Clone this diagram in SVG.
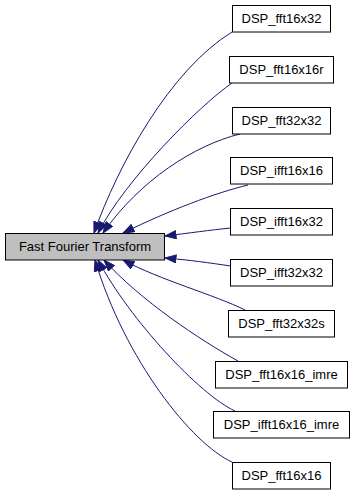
<svg xmlns="http://www.w3.org/2000/svg" width="360" height="493" viewBox="0 0 360 493">
  <style>
    .node rect { fill: #ffffff; stroke: #000000; stroke-width: 1; }
    .node.root rect { fill: #bfbfbf; }
    .node text { font-family: "Liberation Sans", Arial, sans-serif; font-size: 13px; fill: #000000; text-anchor: middle; }
    .edge { fill: none; stroke: #191970; stroke-width: 1; marker-end: url(#head); }
  </style>
  <defs>
    <marker id="head" viewBox="0 0 12 9" refX="11.5" refY="4.5" markerWidth="12" markerHeight="9" markerUnits="userSpaceOnUse" orient="auto">
      <path d="M0.5,0.5 L11.5,4.5 L0.5,8.5 Z" fill="#191970" stroke="#191970" stroke-width="1"/>
    </marker>
  </defs>

  <!-- connectors: each caller points at the group node -->
  <g id="edges">
    <path class="edge" d="M232,32 C170,70 118,165 94,233"/>
    <path class="edge" d="M232,83 C200,105 125,180 98,233"/>
    <path class="edge" d="M240,134 C195,145 140,180 103,233"/>
    <path class="edge" d="M248,185 C215,193 170,210 123,233"/>
    <path class="edge" d="M231,228 C210,230 190,233 165,236"/>
    <path class="edge" d="M231,266 C210,263 190,260 165,258"/>
    <path class="edge" d="M245,310 C215,295 160,280 123,260"/>
    <path class="edge" d="M238,361 C200,340 140,300 104,260"/>
    <path class="edge" d="M235,411 C200,395 130,320 98,260"/>
    <path class="edge" d="M232,462 C192,444 125,360 95,260"/>
  </g>

  <g id="node_fft" class="node root">
    <rect x="5.5" y="233.5" width="159" height="26.5"/>
    <text x="85" y="251">Fast Fourier Transform</text>
  </g>

  <g id="node_fft16x32" class="node">
    <rect x="232.5" y="5.5" width="98" height="26.5"/>
    <text x="281.5" y="23">DSP_fft16x32</text>
  </g>
  <g id="node_fft16x16r" class="node">
    <rect x="229.5" y="56.5" width="104" height="26.5"/>
    <text x="281.5" y="74">DSP_fft16x16r</text>
  </g>
  <g id="node_fft32x32" class="node">
    <rect x="232.5" y="107.5" width="98" height="26.5"/>
    <text x="281.5" y="125">DSP_fft32x32</text>
  </g>
  <g id="node_ifft16x16" class="node">
    <rect x="230.5" y="157.5" width="102" height="26.5"/>
    <text x="281.5" y="175">DSP_ifft16x16</text>
  </g>
  <g id="node_ifft16x32" class="node">
    <rect x="230.5" y="208.5" width="102" height="26.5"/>
    <text x="281.5" y="226">DSP_ifft16x32</text>
  </g>
  <g id="node_ifft32x32" class="node">
    <rect x="230.5" y="259.5" width="102" height="26.5"/>
    <text x="281.5" y="277">DSP_ifft32x32</text>
  </g>
  <g id="node_fft32x32s" class="node">
    <rect x="228.5" y="310.5" width="106" height="26.5"/>
    <text x="281.5" y="328">DSP_fft32x32s</text>
  </g>
  <g id="node_fft16x16_imre" class="node">
    <rect x="215.5" y="361.5" width="132" height="26.5"/>
    <text x="281.5" y="379">DSP_fft16x16_imre</text>
  </g>
  <g id="node_ifft16x16_imre" class="node">
    <rect x="213.5" y="411.5" width="136" height="26.5"/>
    <text x="281.5" y="429">DSP_ifft16x16_imre</text>
  </g>
  <g id="node_fft16x16" class="node">
    <rect x="232.5" y="462.5" width="98" height="26.5"/>
    <text x="281.5" y="480">DSP_fft16x16</text>
  </g>
</svg>
